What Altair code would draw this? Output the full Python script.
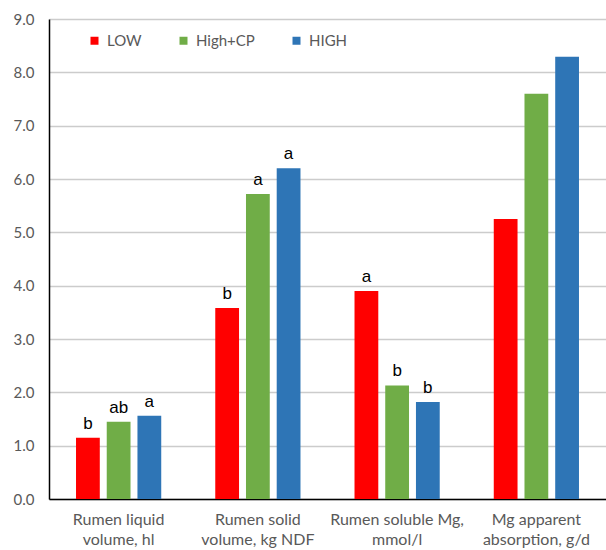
import altair as alt
import pandas as pd

categories = [
    "Rumen liquid\nvolume, hl",
    "Rumen solid\nvolume, kg NDF",
    "Rumen soluble Mg,\nmmol/l",
    "Mg apparent\nabsorption, g/d",
]
groups = ["LOW", "High+CP", "HIGH"]
colors = ["#FF0000", "#70AD47", "#2E75B6"]

low_vals = [1.15, 3.58, 3.90, 5.25]
highcp_vals = [1.45, 5.72, 2.13, 7.60]
high_vals = [1.56, 6.20, 1.82, 8.29]

low_sig = ["b", "b", "a", ""]
highcp_sig = ["ab", "a", "b", ""]
high_sig = ["a", "a", "b", ""]

rows = []
for g, vals, sigs in zip(groups, [low_vals, highcp_vals, high_vals], [low_sig, highcp_sig, high_sig]):
    for c, v, s in zip(categories, vals, sigs):
        rows.append({"category": c, "group": g, "value": v, "sig": s})
df = pd.DataFrame(rows)

FONT = "Lato"

x = alt.X(
    "category:N",
    sort=categories,
    scale=alt.Scale(paddingInner=0.388, paddingOuter=0.194),
    axis=alt.Axis(
        title=None,
        labelAngle=0,
        labelExpr="split(datum.value, '\\n')",
        labelFontSize=16,
        labelFont=FONT,
        labelColor="#595959",
        labelPadding=12,
        labelLineHeight=20,
        ticks=False,
        domainColor="#000000",
        domainWidth=1.5,
        grid=False,
    ),
)
xoff = alt.XOffset("group:N", sort=groups, scale=alt.Scale(paddingInner=0.226, paddingOuter=0))
y = alt.Y(
    "value:Q",
    scale=alt.Scale(domain=[0, 9], nice=False),
    axis=alt.Axis(
        title=None,
        values=[0, 1, 2, 3, 4, 5, 6, 7, 8, 9],
        format=".1f",
        labelFontSize=15,
        labelFont=FONT,
        labelColor="#595959",
        labelPadding=15,
        ticks=False,
        domainColor="#000000",
        domainWidth=1.5,
        gridColor="#cccccc",
        gridWidth=1.5,
    ),
)

bars = alt.Chart(df).mark_bar().encode(
    x=x,
    xOffset=xoff,
    y=y,
    color=alt.Color(
        "group:N",
        sort=groups,
        scale=alt.Scale(domain=groups, range=colors),
        legend=alt.Legend(
            title=None,
            orient="none",
            legendX=38,
            legendY=14,
            direction="horizontal",
            symbolType="square",
            symbolSize=64,
            symbolStrokeWidth=0,
            labelFontSize=15,
            labelFont=FONT,
            labelColor="#595959",
            columnPadding=34,
            labelOffset=5,
        ),
    ),
)

labels = alt.Chart(df).mark_text(
    baseline="bottom", dy=-5, fontSize=17, font="Liberation Sans", color="#000000"
).encode(x=x, xOffset=xoff, y=y, text="sig:N")

chart = (
    alt.layer(bars, labels)
    .properties(
        width=557,
        height=480,
        autosize=alt.AutoSizeParams(type="none"),
        padding={"left": 49, "top": 19, "right": 0, "bottom": 51},
        background="white",
    )
    .configure_view(stroke=None)
)

chart.save("out.html", embed_options={"renderer": "svg", "actions": False})
